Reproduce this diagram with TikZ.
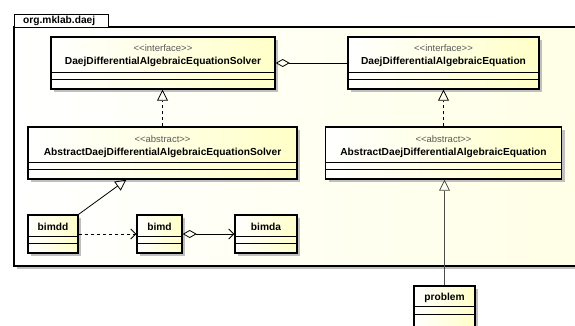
\documentclass[tikz,border=0pt]{standalone}
\usepackage{fontspec}
\setmainfont{Liberation Sans}
\usetikzlibrary{arrows.meta,shadows}
\definecolor{pkgfill}{RGB}{255,255,230}
\definecolor{clsfill}{RGB}{255,255,200}
\newcommand{\stlt}{<{}<}
\newcommand{\stgt}{>{}>}
\begin{document}
\begin{tikzpicture}[x=1pt,y=-1pt,
  cls/.style={draw=black, line width=1.4pt, left color=white, right color=clsfill, inner sep=0pt,
    drop shadow={shadow xshift=3pt, shadow yshift=-3pt, fill=black!25, opacity=1}},
  stereo/.style={font=\fontsize{9.5}{11}\selectfont, text=black!65, inner sep=0pt},
  cname/.style={font=\bfseries\fontsize{10.2}{12}\selectfont, inner sep=0pt},
  sep/.style={line width=0.7pt},
  conn/.style={line width=0.8pt},
  real/.style={conn, dashed, dash pattern=on 3pt off 3pt, -{Triangle[open,length=11pt,width=11pt,line width=0.8pt]}},
  gen/.style={conn, -{Triangle[open,length=11pt,width=11pt,line width=0.8pt]}},
  agg/.style={conn, {Diamond[open,length=14pt,width=8pt,line width=0.8pt]}-},
  aggdir/.style={conn, {Diamond[open,length=14pt,width=8pt,line width=0.8pt]}-{Straight Barb[length=5pt,width=10pt]}},
  dep/.style={conn, dashed, dash pattern=on 3pt off 3pt, -{Straight Barb[length=5pt,width=10pt]}},
]
\useasboundingbox (0,0) rectangle (575,325);
% package
\fill[black!25] (17,30) rectangle (590,269);
\path[left color=white, right color=pkgfill, draw=black, line width=1.2pt] (14,27) rectangle (585,266);
\node[draw=black, line width=1.2pt, fill=white, minimum width=94pt, minimum height=13pt, inner sep=0pt, anchor=north west] (tab) at (14,14) {};
\node[cname, anchor=west] (pkgname) at (23,20.5) {org.mklab.daej};

% interface solver
\node[cls, minimum width=224pt, minimum height=52pt] (solver) at (163,63) {};
\node[stereo] (solverst) at (163,48) {\stlt interface\stgt};
\node[cname] (solvernm) at (163,62) {DaejDifferentialAlgebraicEquationSolver};
\draw[sep] ([yshift=17pt]solver.south west) -- ([yshift=17pt]solver.south east);
\draw[sep] ([yshift=10pt]solver.south west) -- ([yshift=10pt]solver.south east);

% interface equation
\node[cls, minimum width=191pt, minimum height=52pt] (eq) at (443.5,63) {};
\node[stereo] (eqst) at (443.5,48) {\stlt interface\stgt};
\node[cname] (eqnm) at (443.5,62) {DaejDifferentialAlgebraicEquation};
\draw[sep] ([yshift=17pt]eq.south west) -- ([yshift=17pt]eq.south east);
\draw[sep] ([yshift=10pt]eq.south west) -- ([yshift=10pt]eq.south east);

% abstract solver
\node[cls, minimum width=269pt, minimum height=52pt] (asolver) at (162.5,153) {};
\node[stereo] (asolverst) at (162.5,139) {\stlt abstract\stgt};
\node[cname] (asolvernm) at (162.5,153) {AbstractDaejDifferentialAlgebraicEquationSolver};
\draw[sep] ([yshift=17pt]asolver.south west) -- ([yshift=17pt]asolver.south east);
\draw[sep] ([yshift=10pt]asolver.south west) -- ([yshift=10pt]asolver.south east);

% abstract equation
\node[cls, minimum width=236pt, minimum height=52pt] (aeq) at (443.5,153) {};
\node[stereo] (aeqst) at (443.5,139) {\stlt abstract\stgt};
\node[cname] (aeqnm) at (443.5,153) {AbstractDaejDifferentialAlgebraicEquation};
\draw[sep] ([yshift=17pt]aeq.south west) -- ([yshift=17pt]aeq.south east);
\draw[sep] ([yshift=10pt]aeq.south west) -- ([yshift=10pt]aeq.south east);

% small classes
\node[cls, minimum width=50pt, minimum height=38pt] (bimdd) at (53,234) {};
\node[cname] (bimddnm) at (53,227) {bimdd};
\node[cls, minimum width=45pt, minimum height=38pt] (bimd) at (159.5,234) {};
\node[cname] (bimdnm) at (159.5,227) {bimd};
\node[cls, minimum width=62pt, minimum height=38pt] (bimda) at (266,234) {};
\node[cname] (bimdanm) at (266,227) {bimda};
\foreach \n in {bimdd,bimd,bimda}{
  \draw[sep] ([yshift=17pt]\n.south west) -- ([yshift=17pt]\n.south east);
  \draw[sep] ([yshift=10pt]\n.south west) -- ([yshift=10pt]\n.south east);
}
\node[cls, minimum width=61pt, minimum height=44pt] (problem) at (444.5,308) {};
\node[cname] (problemnm) at (444.5,298) {problem};
\draw[sep] ([yshift=-21pt]problem.north west) -- ([yshift=-21pt]problem.north east);
\draw[sep] ([yshift=-29pt]problem.north west) -- ([yshift=-29pt]problem.north east);

% connectors
\draw[agg] (solver.east) -- (eq.west);
\draw[real] (asolver.north) -- (asolver.north |- solver.south);
\draw[real] (aeq.north) -- (aeq.north |- eq.south);
\draw[gen, draw=black!70] (problem.north) -- (problem.north |- aeq.south);
\coordinate (gentip) at ([xshift=99pt]asolver.south west);
\draw[gen] (bimdd.north east) -- (gentip);
\draw[dep] (bimdd.east) -- (bimd.west);
\draw[aggdir] (bimd.east) -- (bimda.west);
\end{tikzpicture}
\end{document}
